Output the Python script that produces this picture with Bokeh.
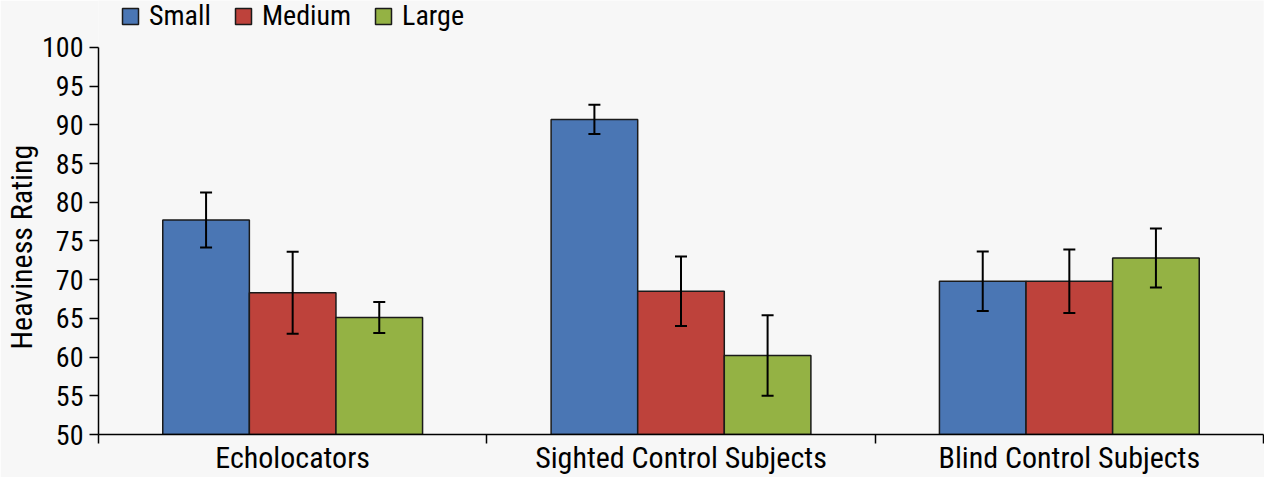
from bokeh.plotting import figure
from bokeh.models import (ColumnDataSource, Range1d, FixedTicker, Whisker, TeeHead,
                          Legend, LegendItem, Title)
from bokeh.embed import file_html
from bokeh.resources import INLINE

categories = ["Echolocators", "Sighted Control Subjects", "Blind Control Subjects"]
sizes = ["Small", "Medium", "Large"]
small_vals = [77.7, 90.7, 69.8]
small_err = [3.55, 1.9, 3.85]
medium_vals = [68.3, 68.5, 69.8]
medium_err = [5.3, 4.5, 4.1]
large_vals = [65.1, 60.2, 72.8]
large_err = [2.0, 5.2, 3.8]
y_ticks = [50, 55, 60, 65, 70, 75, 80, 85, 90, 95, 100]

colors = ["#4a76b4", "#be423b", "#94b244"]
FONT = "Roboto Condensed"
BG = "#f7f7f7"

# y range extends above 100 to leave room for the legend inside the frame
p = figure(width=1264, height=477, output_backend="svg", toolbar_location=None,
           x_range=Range1d(0, 3), y_range=Range1d(50, 106.06),
           min_border_left=93, min_border_right=1, min_border_top=0, min_border_bottom=42,
           background_fill_color=BG, border_fill_color=BG, outline_line_color=None)
p.xgrid.visible = False
p.ygrid.visible = False

bw = 0.223
offsets = [-bw, 0.0, bw]
series = [(small_vals, small_err), (medium_vals, medium_err), (large_vals, large_err)]
renderers = []
for k, (vals, errs) in enumerate(series):
    xs = [i + 0.5 + offsets[k] for i in range(len(categories))]
    src = ColumnDataSource(dict(x=xs, top=vals,
                                lo=[v - e for v, e in zip(vals, errs)],
                                hi=[v + e for v, e in zip(vals, errs)]))
    r = p.vbar(x="x", top="top", bottom=50, width=bw, source=src,
               fill_color=colors[k], line_color="#1a1a1a", line_width=1.5)
    renderers.append(r)
    w = Whisker(base="x", lower="lo", upper="hi", source=src, line_width=2, line_color="black",
                level="overlay",
                upper_head=TeeHead(size=12, line_width=2, line_color="black"),
                lower_head=TeeHead(size=12, line_width=2, line_color="black"))
    p.add_layout(w)

# y axis
ya = p.yaxis[0]
ya.bounds = (50, 100)
ya.ticker = FixedTicker(ticks=y_ticks)
ya.major_tick_out = 9
ya.major_tick_in = 0
ya.minor_tick_line_color = None
ya.major_tick_line_width = 1.5
ya.axis_line_width = 1.5
ya.major_label_standoff = 6
ya.major_label_text_font = FONT
ya.major_label_text_font_size = "28px"
ya.major_label_text_color = "black"

ytitle = Title(text="Heaviness Rating", align="left", offset=85, standoff=2,
               text_font=FONT, text_font_size="30px", text_font_style="normal",
               text_color="black")
p.add_layout(ytitle, "left")

# x axis
xa = p.xaxis[0]
xa.ticker = FixedTicker(ticks=[0.5, 1.5, 2.5], minor_ticks=[0, 1, 2, 3])
xa.major_label_overrides = {0.5: categories[0], 1.5: categories[1], 2.5: categories[2]}
xa.major_tick_line_color = None
xa.major_tick_out = 0
xa.major_tick_in = 0
xa.minor_tick_out = 9
xa.minor_tick_in = 0
xa.minor_tick_line_width = 1.5
xa.minor_tick_line_color = "black"
xa.axis_line_width = 1.5
xa.major_label_standoff = -4
xa.major_label_text_font = FONT
xa.major_label_text_font_size = "30px"
xa.major_label_text_color = "black"

legend = Legend(items=[LegendItem(label=s, renderers=[r]) for s, r in zip(sizes, renderers)],
                orientation="horizontal", location=(22, 402),
                glyph_width=20, glyph_height=20, label_standoff=9, spacing=22,
                padding=0, margin=0, border_line_color=None, background_fill_alpha=0,
                label_text_font=FONT, label_text_font_size="28px", label_text_color="black",
                label_height=30)
p.add_layout(legend, "center")

open("out.html", "w").write(file_html(p, INLINE))
